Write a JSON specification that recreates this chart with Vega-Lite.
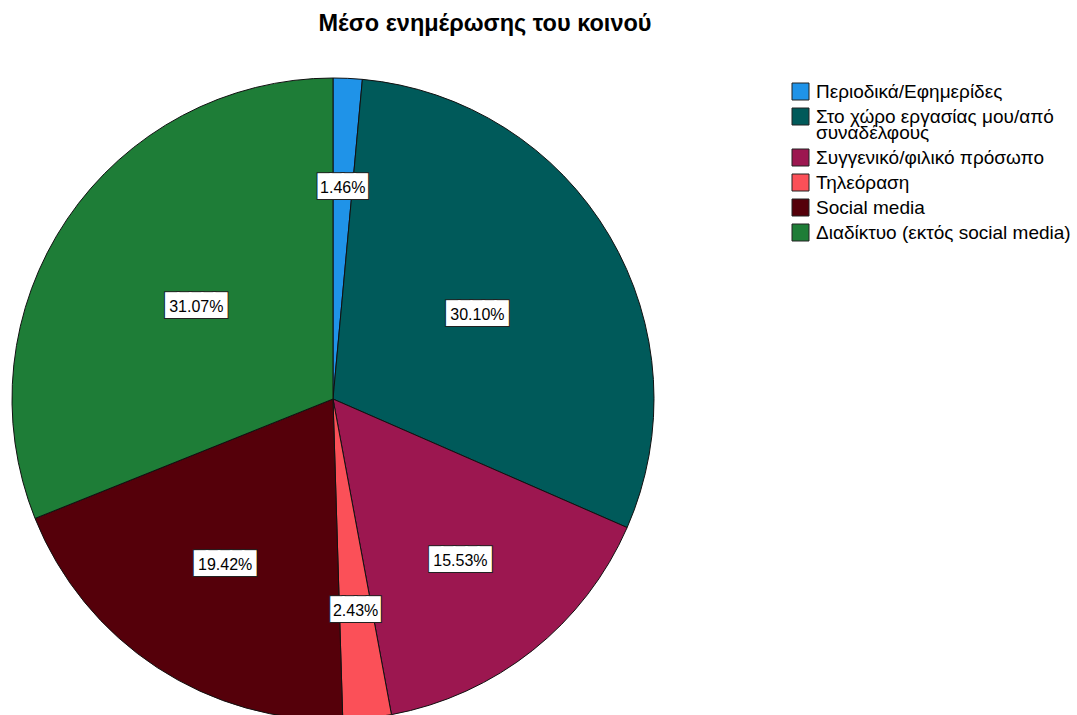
{
  "$schema": "https://vega.github.io/schema/vega-lite/v6.json",
  "width": 642,
  "height": 642,
  "padding": {"left": 10, "top": 12, "right": 0, "bottom": 0},
  "autosize": {"type": "pad"},
  "background": "white",
  "title": {
    "text": "Μέσο ενημέρωσης του κοινού",
    "font": "Liberation Sans",
    "fontSize": 23.5,
    "fontWeight": "bold",
    "color": "#000000",
    "anchor": "middle",
    "dx": 152,
    "offset": 40.5
  },
  "config": {"view": {"stroke": null}},
  "data": {
    "values": [
      {"idx": 1, "source": "Περιοδικά/Εφημερίδες", "share": 0.0146},
      {"idx": 2, "source": "Στο χώρο εργασίας μου/από συναδέλφους", "share": 0.3010},
      {"idx": 3, "source": "Συγγενικό/φιλικό πρόσωπο", "share": 0.1553},
      {"idx": 4, "source": "Τηλεόραση", "share": 0.0243},
      {"idx": 5, "source": "Social media", "share": 0.1942},
      {"idx": 6, "source": "Διαδίκτυο (εκτός social media)", "share": 0.3107}
    ]
  },
  "encoding": {
    "theta": {"field": "share", "type": "quantitative", "stack": true},
    "order": {"field": "idx", "type": "quantitative"}
  },
  "layer": [
    {
      "mark": {"type": "arc", "radius": 321, "stroke": "#111111", "strokeWidth": 1},
      "encoding": {
        "color": {
          "field": "source",
          "type": "nominal",
          "scale": {
            "domain": ["Περιοδικά/Εφημερίδες", "Στο χώρο εργασίας μου/από συναδέλφους", "Συγγενικό/φιλικό πρόσωπο", "Τηλεόραση", "Social media", "Διαδίκτυο (εκτός social media)"],
            "range": ["#1f93e8", "#005a5a", "#9c1750", "#fb5058", "#55000a", "#1e7d37"]
          },
          "legend": {
            "title": null,
            "orient": "none",
            "legendX": 779,
            "legendY": 4,
            "padding": 0,
            "symbolType": "square",
            "symbolSize": 289,
            "symbolStrokeColor": "#222222",
            "symbolStrokeWidth": 1,
            "symbolOpacity": 1,
            "labelFont": "Liberation Sans",
            "labelFontSize": 19,
            "labelColor": "#000000",
            "labelOffset": 6,
            "labelLimit": 400,
            "rowPadding": 4,
            "labelExpr": "datum.label == 'Στο χώρο εργασίας μου/από συναδέλφους' ? ['Στο χώρο εργασίας μου/από', 'συναδέλφους'] : datum.label",
            "encode": {"labels": {"update": {"lineHeight": {"value": 16.5}}}}
          }
        }
      }
    },
    {
      "mark": {"type": "text", "font": "DejaVu Sans Mono", "fontSize": 20, "fill": "#222222", "stroke": "#222222", "strokeWidth": 4, "baseline": "middle", "align": "center"},
      "encoding": {
        "radius": {"field": "share", "type": "quantitative", "scale": {"type": "linear", "domain": [0, 0.155, 0.194, 0.311], "range": [213, 205, 197, 165], "zero": false, "nice": false}},
        "text": {"condition": {"test": "datum.share < 0.1", "value": "████"}, "value": "█████"}
      }
    },
    {
      "mark": {"type": "text", "font": "DejaVu Sans Mono", "fontSize": 20, "fill": "#ffffff", "stroke": "#ffffff", "strokeWidth": 2, "baseline": "middle", "align": "center"},
      "encoding": {
        "radius": {"field": "share", "type": "quantitative"},
        "text": {"condition": {"test": "datum.share < 0.1", "value": "████"}, "value": "█████"}
      }
    },
    {
      "mark": {"type": "text", "font": "Liberation Sans", "fontSize": 16, "fill": "#000000", "baseline": "middle", "align": "center", "dy": 1},
      "encoding": {
        "radius": {"field": "share", "type": "quantitative"},
        "text": {"field": "share", "type": "quantitative", "format": ".2%"}
      }
    }
  ]
}
